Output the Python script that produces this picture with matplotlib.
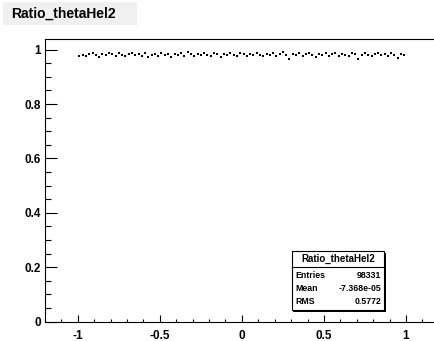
import numpy as np
import matplotlib.pyplot as plt
from matplotlib.patches import Rectangle
from matplotlib.ticker import MultipleLocator

# --- datos: cociente por bin (100 bins entre -1 y 1) ---
nombre = "Ratio_thetaHel2"
x_min, x_max, n_bins = -1.0, 1.0, 100
ratio = [
    0.978, 0.982, 0.976, 0.984, 0.987, 0.980, 0.974, 0.985, 0.981, 0.988,
    0.983, 0.977, 0.987, 0.981, 0.975, 0.985, 0.989, 0.979, 0.983, 0.977,
    0.987, 0.972, 0.981, 0.985, 0.975, 0.988, 0.979, 0.983, 0.974, 0.985,
    0.981, 0.987, 0.977, 0.990, 0.983, 0.975, 0.985, 0.979, 0.988, 0.981,
    0.977, 0.987, 0.983, 0.973, 0.985, 0.979, 0.989, 0.981, 0.975, 0.987,
    0.983, 0.977, 0.985, 0.981, 0.989, 0.979, 0.975, 0.985, 0.981, 0.987,
    0.977, 0.983, 0.990, 0.979, 0.964, 0.985, 0.981, 0.989, 0.975, 0.983,
    0.987, 0.979, 0.973, 0.985, 0.981, 0.989, 0.977, 0.983, 0.987, 0.975,
    0.985, 0.981, 0.977, 0.989, 0.983, 0.966, 0.979, 0.987, 0.981, 0.975,
    0.985, 0.989, 0.979, 0.983, 0.977, 0.987, 0.981, 0.968, 0.985, 0.979,
]
estadisticas = [("Entries", "98331"), ("Mean", "-7.368e-05"), ("RMS", "0.5772")]

W, H = 435, 341
FUENTE = "Liberation Sans"


def fx(px):
    return px / W


def fy(py):
    # py medido desde arriba
    return 1 - py / H


fig = plt.figure(figsize=(W / 100, H / 100), dpi=100)
ax = fig.add_axes([fx(45), fy(321.7), fx(438.8 - 45), (321.7 - 39.3) / H])

ancho = (x_max - x_min) / n_bins
centros = x_min + ancho * (np.arange(n_bins) + 0.5)
ax.plot(centros, ratio, "s", color="black", markersize=2.0, markeredgewidth=0)

ax.set_xlim(-1.2, 1.2)
ax.set_ylim(0, 1.038)
ax.set_xticks([-1, -0.5, 0, 0.5, 1])
ax.set_xticklabels(["-1", "-0.5", "0", "0.5", "1"])
ax.set_yticks([0, 0.2, 0.4, 0.6, 0.8, 1])
ax.set_yticklabels(["0", "0.2", "0.4", "0.6", "0.8", "1"])
ax.xaxis.set_minor_locator(MultipleLocator(0.1))
ax.yaxis.set_minor_locator(MultipleLocator(0.05))
ax.tick_params(axis="x", which="major", direction="in", length=5, width=0.8, pad=6)
ax.tick_params(axis="x", which="minor", direction="in", length=2.5, width=0.8)
ax.tick_params(axis="y", which="major", direction="in", length=8.6, width=0.8, pad=3)
ax.tick_params(axis="y", which="minor", direction="in", length=4.3, width=0.8)
for lab in ax.get_xticklabels() + ax.get_yticklabels():
    lab.set_fontfamily(FUENTE)
    lab.set_fontweight("bold")
    lab.set_fontsize(8.5)
for s in ax.spines.values():
    s.set_linewidth(0.8)
ax.spines["right"].set_visible(False)

# --- titulo en caja gris arriba a la izquierda ---
fig.patches.append(Rectangle((fx(3), fy(25)), fx(134), 23 / H, transform=fig.transFigure,
                             facecolor="#f0f0f0", edgecolor="none"))
fig.text(fx(11), fy(14), nombre, fontfamily=FUENTE, fontweight="bold", fontsize=10,
         ha="left", va="center")

# --- caja de estadisticas ---
x0, x1, y0, y1 = 291.7, 384.3, 251, 310
fig.patches.append(Rectangle((fx(x0 + 1.5), fy(y1 + 1.5)), fx(x1 - x0), (y1 - y0) / H,
                             transform=fig.transFigure, facecolor="black", edgecolor="none"))
fig.patches.append(Rectangle((fx(x0), fy(y1)), fx(x1 - x0), (y1 - y0) / H,
                             transform=fig.transFigure, facecolor="white", edgecolor="black",
                             linewidth=0.8))
fig.add_artist(plt.Line2D([fx(x0), fx(x1)], [fy(266.7), fy(266.7)], transform=fig.transFigure,
                          color="black", linewidth=0.8))
fig.text(fx((x0 + x1) / 2), fy(259), nombre, fontfamily=FUENTE, fontweight="bold",
         fontsize=7, ha="center", va="center")
for (etiqueta, valor), yy in zip(estadisticas, [275, 288.5, 301.5]):
    fig.text(fx(295), fy(yy), etiqueta, fontfamily=FUENTE, fontweight="bold", fontsize=6.3,
             ha="left", va="center")
    fig.text(fx(381.5), fy(yy), valor, fontfamily=FUENTE, fontweight="bold", fontsize=6.3,
             ha="right", va="center")

fig.savefig("out.png", dpi=100)
